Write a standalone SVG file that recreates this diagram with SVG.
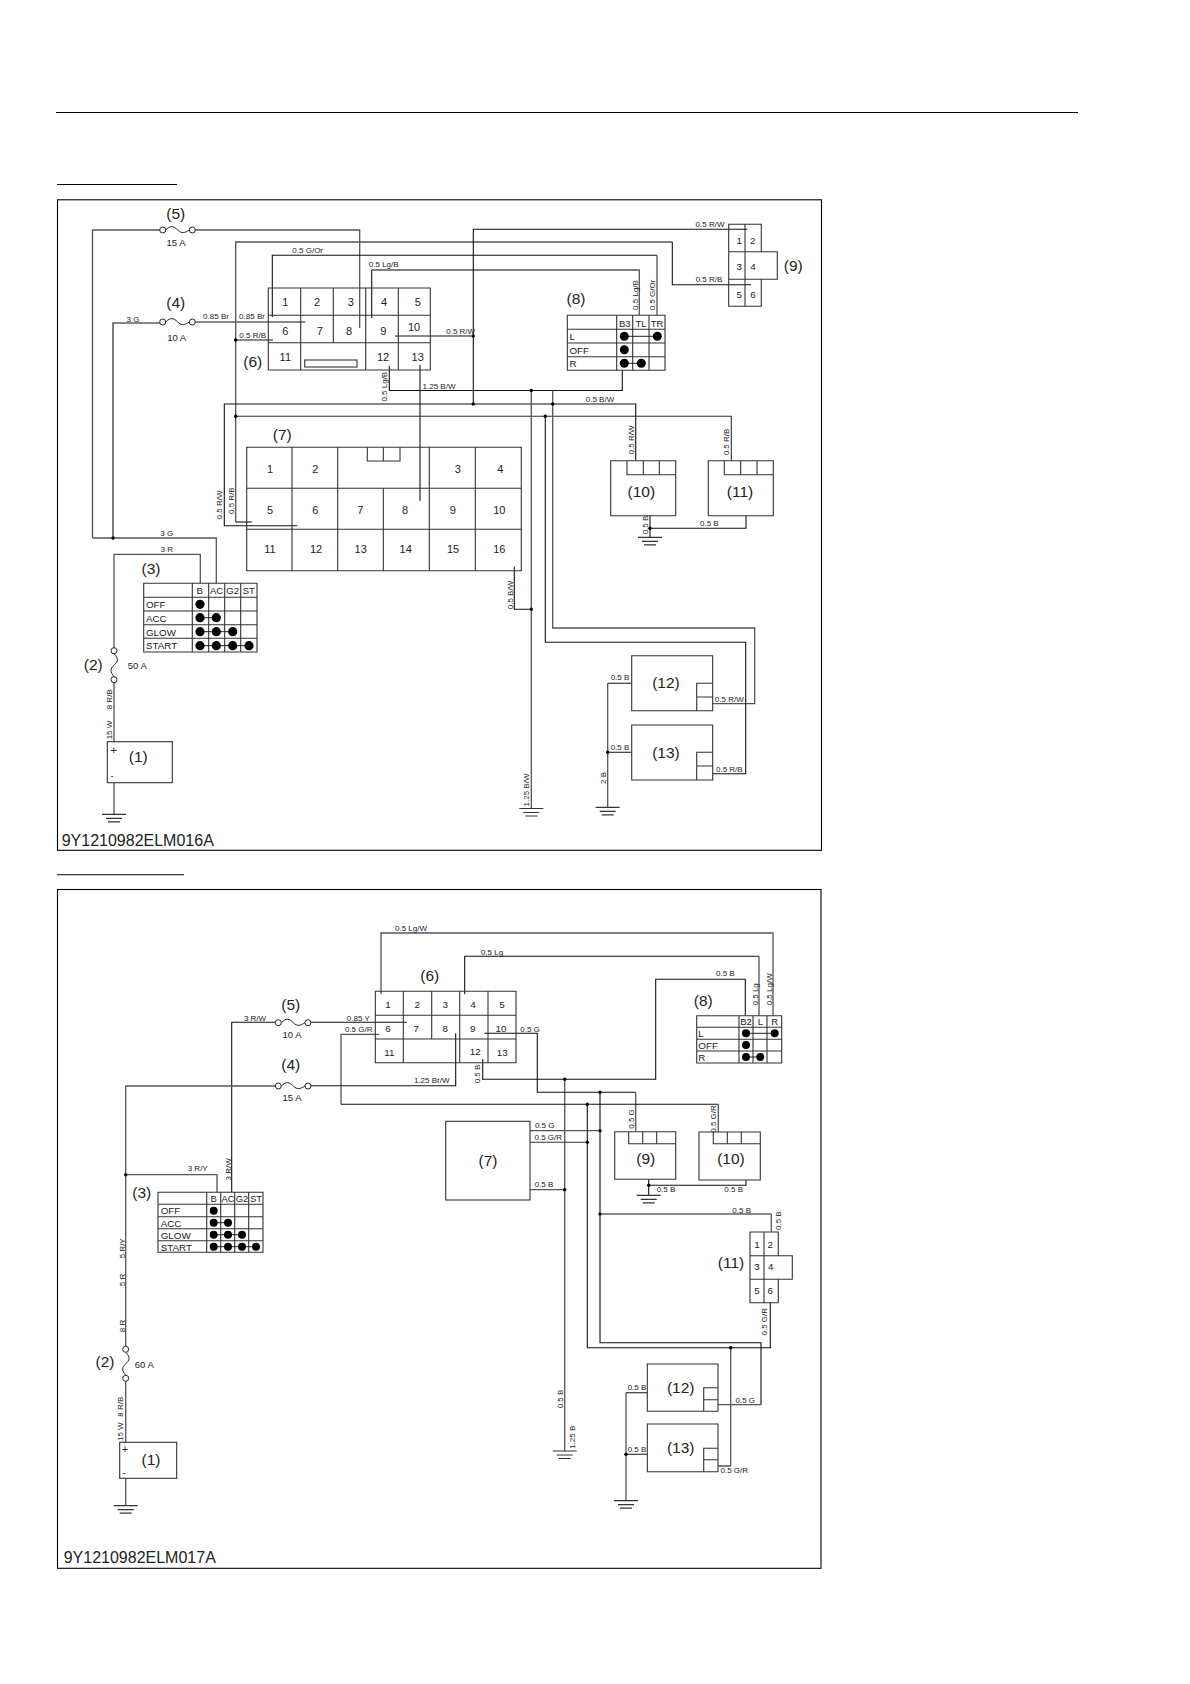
<svg xmlns="http://www.w3.org/2000/svg" xmlns:xlink="http://www.w3.org/1999/xlink" width="1190" height="1684" viewBox="0 0 1190 1684">
<style>
text{font-family:"Liberation Sans",Arial,sans-serif;fill:#222}
.l{font-size:8px;text-anchor:middle}
.a{font-size:9.5px;text-anchor:middle}
.n{font-size:15.5px;text-anchor:middle;transform:translateY(-.8px)}
.d{font-size:11px;text-anchor:middle}
.e{font-size:9.8px;text-anchor:middle}
.s{font-size:9.8px}
.h{font-size:9.5px;text-anchor:middle}
.c{font-size:16px}
.b,.w,.g,.t,.f{fill:none}
.b{stroke:#000;stroke-width:1.1}
.w{stroke:#111;stroke-width:1.1}
.g{stroke:#555;stroke-width:1.3}
.t{stroke:#333;stroke-width:1.1}
.f{stroke:#222;stroke-width:1}
.j{fill:#000}
.p{fill:#000}
.o{fill:#fff;stroke:#222;stroke-width:1}
</style>
<defs>
<g id="gnd" class="f"><path d="M-12 0H12M-8 4H8M-6 7.5H6" style="fill:none;stroke:#333;stroke-width:1.2"/></g>
<g id="hf"><path class="f" d="M3 0C8-5 11-4 15 0C19 4 22 3 26.600 0"/><circle class="o" cx="0" cy="0" r="3"/><circle class="o" cx="29.600" cy="0" r="3"/></g>
<g id="vf"><path class="f" d="M0 3C5 8 4 11 0 14.500C-4 18 -4 21 0 26"/><circle class="o" cx="0" cy="0" r="3"/><circle class="o" cx="0" cy="29" r="3"/></g>
</defs>
<rect width="1190" height="1684" fill="#fff"/>
<g id="page-rules">
<path class="b" d="M56 112.500H1078M57 184.500H177M57 874.700H184"/>
<rect class="b" x="57.500" y="199.800" width="764" height="650.500"/>
<rect class="b" x="57.500" y="889.500" width="763.500" height="678.800"/>
<text class="c" x="61.700" y="845.700">9Y1210982ELM016A</text>
<text class="c" x="63.700" y="1563.300">9Y1210982ELM017A</text>
</g>

<g id="connectors-top">
<path class="w" d="M113 538V323H162.700"/>
<path class="g" d="M92.500 538V230H162.700M192.300 230H359.700V328M92.500 538H216.300V583.300"/>
<path class="w" d="M192.300 322H305.300"/>
<path class="g" d="M235.700 522V242H672.300"/>
<path class="w" d="M672.300 242V284.700H751"/>
<path class="w" d="M235.700 522H251.700"/>
<path class="w" d="M235.700 340H273"/>
<path class="w" d="M272.300 317V255.300H657"/>
<path class="g" d="M657 255.300V315"/>
<path class="w" d="M371.700 318V270"/>
<path class="g" d="M371.700 270H639.300V315"/>
<path class="w" d="M747.300 229.300H473.300V404"/>
<path class="w" d="M395 336H473.300"/>
<path class="w" d="M389.300 366V390.500H622.300V370.300"/>
<path class="w" d="M420 365V500.700"/>
<path class="w" d="M297.300 525.700H224.300V404H635.700V460.700"/>
<path class="t" d="M235.700 416.200H731.300V460.700"/>
<path class="g" d="M531.300 390.500V808.500"/>
<path class="w" d="M514.300 566.700V609.300H531.300"/>
<path class="g" d="M552.700 390.500V628H754.700V703.700H712.700"/>
<path class="w" d="M545.300 416.200V642.300H745.700V773.700H712.700"/>
<path class="w" d="M650 515.700V537.300M650 528.300H746V515.700"/>
<path class="g" d="M607.700 807.300V683.300"/>
<path class="w" d="M631.700 683.300H607.700M607.700 752.300H631.700"/>
<path class="g" d="M200.300 583.300V554.300H114V648"/>
<path class="g" d="M114 682.300V741.700M114 782.700V814.300"/>
<circle class="j" cx="113" cy="538" r="1.700"/><circle class="j" cx="235.700" cy="340" r="1.700"/><circle class="j" cx="235.700" cy="416.200" r="1.700"/><circle class="j" cx="473.300" cy="336" r="1.700"/><circle class="j" cx="473.300" cy="404" r="1.700"/><circle class="j" cx="531.300" cy="390.500" r="1.700"/><circle class="j" cx="552.700" cy="404" r="1.700"/><circle class="j" cx="545.300" cy="416.200" r="1.700"/><circle class="j" cx="531.300" cy="609.300" r="1.700"/><circle class="j" cx="650" cy="528.300" r="1.700"/><circle class="j" cx="607.700" cy="752.300" r="1.700"/>
<use href="#gnd" x="114" y="814.300"/><use href="#gnd" x="531.300" y="808.500"/><use href="#gnd" x="650" y="537.300"/><use href="#gnd" x="607.700" y="807.300"/>
<text class="l" x="307.700" y="253.300">0.5 G/Or</text>
<text class="l" x="383.700" y="267">0.5 Lg/B</text>
<text class="l" x="133" y="321.700">3 G</text>
<text class="l" x="216" y="319">0.85 Br</text>
<text class="l" x="252" y="319">0.85 Br</text>
<text class="l" x="252.700" y="338">0.5 R/B</text>
<text class="l" x="460.700" y="334">0.5 R/W</text>
<text class="l" x="439" y="388.700">1.25 B/W</text>
<text class="l" x="600" y="402.300">0.5 B/W</text>
<text class="l" x="710" y="227.300">0.5 R/W</text>
<text class="l" x="709" y="281.700">0.5 R/B</text>
<text class="l" x="166.700" y="535.700">3 G</text>
<text class="l" x="166.700" y="552">3 R</text>
<text class="l" x="709.300" y="526">0.5 B</text>
<text class="l" x="620" y="680">0.5 B</text>
<text class="l" x="620" y="749.700">0.5 B</text>
<text class="l" x="729.300" y="701.700">0.5 R/W</text>
<text class="l" x="729.300" y="771.700">0.5 R/B</text>
<text class="l" transform="translate(387 386.700) rotate(-90)">0.5 Lg/B</text>
<text class="l" transform="translate(638 295) rotate(-90)">0.5 Lg/B</text>
<text class="l" transform="translate(655.300 295) rotate(-90)">0.5 G/Or</text>
<text class="l" transform="translate(634 440) rotate(-90)">0.5 R/W</text>
<text class="l" transform="translate(729 442) rotate(-90)">0.5 R/B</text>
<text class="l" transform="translate(647.700 525) rotate(-90)">0.5 B</text>
<text class="l" transform="translate(222.300 505) rotate(-90)">0.5 R/W</text>
<text class="l" transform="translate(233.700 500.700) rotate(-90)">0.5 R/B</text>
<text class="l" transform="translate(512.700 595) rotate(-90)">0.5 B/W</text>
<text class="l" transform="translate(529 790) rotate(-90)">1.25 B/W</text>
<text class="l" transform="translate(606.300 778) rotate(-90)">2 B</text>
<text class="l" transform="translate(112 699.300) rotate(-90)">8 R/B</text>
<text class="l" transform="translate(112 730) rotate(-90)">15 W</text>
</g>

<g id="t-fuse5"><use href="#hf" x="162.700" y="230"/><text class="n" x="175.700" y="219.500">(5)</text><text class="a" x="176" y="246">15 A</text></g>
<g id="t-fuse4"><use href="#hf" x="162.700" y="322"/><text class="n" x="175.700" y="309">(4)</text><text class="a" x="176.700" y="340.700">10 A</text></g>
<g id="t-fuse2"><use href="#vf" x="114" y="650.700"/><text class="n" x="93.300" y="671">(2)</text><text class="a" x="137.300" y="668.700">50 A</text></g>
<g id="t-battery"><rect class="t" x="107.300" y="741.700" width="65" height="41"/><text class="d" x="113.700" y="753.500">+</text><text class="a" x="112" y="779">-</text><text class="n" x="138.300" y="763.300">(1)</text></g>

<g id="t-switch3">
<path class="t" d="M143.700 583.300H257V652H143.700ZM143.700 597.300H257M143.700 611H257M143.700 624.700H257M143.700 638.300H257M192.300 583.300V652M208.700 583.300V652M224.700 583.300V652M240.700 583.300V652"/>
<text class="n" x="151" y="575">(3)</text>
<text class="h" x="199.700" y="594.300">B</text><text class="h" x="216.500" y="594.300">AC</text><text class="h" x="232.700" y="594.300">G2</text><text class="h" x="248.700" y="594.300">ST</text>
<text class="s" x="146" y="608.300">OFF</text><text class="s" x="146" y="622">ACC</text><text class="s" x="146" y="635.700">GLOW</text><text class="s" x="146" y="649.300">START</text>
<path class="f" d="M200 617.700H216.300M200 631.700H232.700M200 645.700H249"/>
<g class="p"><circle cx="200" cy="604.300" r="4.600"/><circle cx="200" cy="617.700" r="4.600"/><circle cx="216.300" cy="617.700" r="4.600"/><circle cx="200" cy="631.700" r="4.600"/><circle cx="216.300" cy="631.700" r="4.600"/><circle cx="232.700" cy="631.700" r="4.600"/><circle cx="200" cy="645.700" r="4.600"/><circle cx="216.300" cy="645.700" r="4.600"/><circle cx="232.700" cy="645.700" r="4.600"/><circle cx="249" cy="645.700" r="4.600"/></g>
</g>

<g id="t-node6">
<path class="t" d="M268.300 288H430.300V370H268.300ZM268.300 315.300H430.300M268.300 342.700H430.300M300.700 288V370M333.300 288V342.700M365.700 288V370M398.300 288V370"/>
<rect class="t" x="304.700" y="360" width="52.300" height="7"/>
<text class="n" x="252.700" y="368">(6)</text>
<text class="d" x="285.300" y="306.300">1</text><text class="d" x="317" y="306.300">2</text><text class="d" x="350.700" y="306.300">3</text><text class="d" x="384" y="306.300">4</text><text class="d" x="417.700" y="306.300">5</text>
<text class="d" x="285.300" y="334.500">6</text><text class="d" x="319.700" y="334.500">7</text><text class="d" x="349" y="334.500">8</text><text class="d" x="383.300" y="334.500">9</text><text class="d" x="414" y="330.700">10</text>
<text class="d" x="285.300" y="360.700">11</text><text class="d" x="383" y="360.700">12</text><text class="d" x="417.700" y="360.700">13</text>
</g>

<g id="t-node7">
<path class="t" d="M246.700 447.300H521.300V570.700H246.700ZM246.700 488.300H521.300M246.700 529.300H521.300M292 447.300V570.700M337.700 447.300V570.700M383.300 488.300V570.700M429.300 447.300V570.700M475.300 447.300V570.700M367.300 447.300V461H400V447.300M383.300 447.300V461"/>
<text class="n" x="282.300" y="440.700">(7)</text>
<text class="d" x="270" y="473">1</text><text class="d" x="315.300" y="473">2</text><text class="d" x="457.700" y="473">3</text><text class="d" x="500.300" y="473">4</text>
<text class="d" x="270" y="513.700">5</text><text class="d" x="315.300" y="513.700">6</text><text class="d" x="360.300" y="513.700">7</text><text class="d" x="405" y="513.700">8</text><text class="d" x="452.700" y="513.700">9</text><text class="d" x="499.300" y="513.700">10</text>
<text class="d" x="270" y="553">11</text><text class="d" x="316" y="553">12</text><text class="d" x="360.700" y="553">13</text><text class="d" x="405.700" y="553">14</text><text class="d" x="453" y="553">15</text><text class="d" x="499.300" y="553">16</text>
</g>

<g id="t-node8">
<path class="t" d="M567.300 315.300H665V370.300H567.300ZM567.300 329.300H665M567.300 343H665M567.300 356.700H665M616.700 315.300V370.300M632.700 315.300V370.300M649 315.300V370.300"/>
<text class="n" x="576" y="305">(8)</text>
<text class="h" x="624.700" y="326.700">B3</text><text class="h" x="641" y="326.700">TL</text><text class="h" x="657" y="326.700">TR</text>
<text class="s" x="569.500" y="340">L</text><text class="s" x="569.500" y="354">OFF</text><text class="s" x="569.500" y="367.300">R</text>
<path class="f" d="M624.300 336.300H657.300M624.300 363.300H641.300"/>
<g class="p"><circle cx="624.300" cy="336.300" r="4.500"/><circle cx="657.300" cy="336.300" r="4.500"/><circle cx="624.300" cy="349.700" r="4.500"/><circle cx="624.300" cy="363.300" r="4.500"/><circle cx="641.300" cy="363.300" r="4.500"/></g>
</g>

<g id="t-node9">
<path class="t" d="M728.700 224.300H761.300V251.700H777.300V279.300H761.300V306.300H728.700ZM728.700 251.700H761.300M728.700 279.300H761.300M745 224.300V306.300"/>
<text class="n" x="793.300" y="272.300">(9)</text>
<text class="e" x="739.300" y="243.500">1</text><text class="e" x="752.700" y="243.500">2</text><text class="e" x="739.300" y="269.500">3</text><text class="e" x="753" y="269.500">4</text><text class="e" x="739.300" y="297.800">5</text><text class="e" x="753" y="297.800">6</text>
</g>

<g id="t-node10"><path class="t" d="M610.700 460.700H675.700V515.700H610.700ZM627 460.700V474.700H675.700M643.300 460.700V474.700M659.300 460.700V474.700"/><text class="n" x="641.300" y="498">(10)</text></g>
<g id="t-node11"><path class="t" d="M708.300 460.700H773.300V515.700H708.300ZM724.300 460.700V474.700H773.300M740.700 460.700V474.700M757 460.700V474.700"/><text class="n" x="740" y="498">(11)</text></g>
<g id="t-node12"><path class="t" d="M631.700 655.700H712.700V710.700H631.700ZM712.700 683.300H696.700V710.700M696.700 697H712.700"/><text class="n" x="666" y="689.300">(12)</text></g>
<g id="t-node13"><path class="t" d="M631.700 725H712.700V780H631.700ZM712.700 752.300H696.700V780M696.700 766H712.700"/><text class="n" x="666" y="759">(13)</text></g>

<g id="connectors-bottom">
<path class="g" d="M381 994.300V933H773V1015.700"/>
<path class="w" d="M464.700 994.300V956.300H759"/>
<path class="g" d="M759 956.300V1015.700"/>
<path class="w" d="M482.700 1059.300V1079.300H655.700V979.300H745.300V1015.700"/>
<path class="g" d="M564.700 1079.300V1451"/>
<path class="w" d="M484.300 1033.300H537.300V1092.300H635.700"/>
<path class="g" d="M635.700 1092.300V1131.300"/>
<path class="g" d="M379 1034.300H341V1104.300"/>
<path class="w" d="M341 1104.300H718.300"/>
<path class="g" d="M718.300 1104.300V1132"/>
<path class="w" d="M307 1022.300H406.700M278.300 1022.300H231.700V1192.300"/>
<path class="g" d="M125.700 1349V1086H278.300"/>
<path class="w" d="M307 1085.700H455.700V1033.300"/>
<path class="g" d="M125.700 1174.700H217V1192.300"/>
<path class="g" d="M125.700 1378.300V1442.300M125.700 1478.300V1505.700"/>
<path class="g" d="M530 1130.700H600"/>
<path class="t" d="M530 1142.300H587.300"/>
<path class="g" d="M530 1189.700H564.700"/>
<path class="w" d="M600 1092.300V1342.700H761V1404.700"/>
<path class="g" d="M761 1404.700H718"/>
<path class="w" d="M587.300 1104.300V1347.700H770.300V1302.700"/>
<path class="g" d="M730.700 1347.700V1466"/>
<path class="w" d="M730.700 1466H718"/>
<path class="w" d="M600 1214H771.300"/>
<path class="g" d="M771.300 1214V1231.700"/>
<path class="w" d="M648.700 1179.300V1195.300M648.700 1185.300H746V1180"/>
<path class="g" d="M626 1392.700V1500.700"/>
<path class="w" d="M647.300 1392.700H626M626 1454.300H647.300"/>
<circle class="j" cx="125.700" cy="1174.700" r="1.700"/><circle class="j" cx="564.700" cy="1079.300" r="1.700"/><circle class="j" cx="600" cy="1092.300" r="1.700"/><circle class="j" cx="587.300" cy="1104.300" r="1.700"/><circle class="j" cx="600" cy="1130.700" r="1.700"/><circle class="j" cx="587.300" cy="1142.300" r="1.700"/><circle class="j" cx="564.700" cy="1189.700" r="1.700"/><circle class="j" cx="648.700" cy="1185.300" r="1.700"/><circle class="j" cx="600" cy="1214" r="1.700"/><circle class="j" cx="730.700" cy="1347.700" r="1.700"/><circle class="j" cx="626" cy="1454.300" r="1.700"/>
<use href="#gnd" x="125.700" y="1505.700"/><use href="#gnd" x="564.700" y="1451"/><use href="#gnd" x="648.700" y="1195.300"/><use href="#gnd" x="626" y="1500.700"/>
<text class="l" x="411" y="931.300">0.5 Lg/W</text>
<text class="l" x="492" y="954.700">0.5 Lg</text>
<text class="l" x="725.300" y="976">0.5 B</text>
<text class="l" x="530" y="1032.300">0.5 G</text>
<text class="l" x="358.700" y="1032">0.5 G/R</text>
<text class="l" x="358.300" y="1020.700">0.85 Y</text>
<text class="l" x="255" y="1021.300">3 R/W</text>
<text class="l" x="431.700" y="1083.300">1.25 Br/W</text>
<text class="l" x="197.700" y="1171">3 R/Y</text>
<text class="l" x="544.700" y="1128">0.5 G</text>
<text class="l" x="548.300" y="1139.700">0.5 G/R</text>
<text class="l" x="544" y="1186.700">0.5 B</text>
<text class="l" x="666" y="1192.300">0.5 B</text>
<text class="l" x="733.700" y="1192.300">0.5 B</text>
<text class="l" x="741.700" y="1212.700">0.5 B</text>
<text class="l" x="637" y="1390.300">0.5 B</text>
<text class="l" x="637" y="1451.700">0.5 B</text>
<text class="l" x="745.300" y="1402.700">0.5 G</text>
<text class="l" x="734.300" y="1473.300">0.5 G/R</text>
<text class="l" transform="translate(480.300 1074) rotate(-90)">0.5 B</text>
<text class="l" transform="translate(633.700 1119) rotate(-90)">0.5 G</text>
<text class="l" transform="translate(716.300 1119) rotate(-90)">0.5 G/R</text>
<text class="l" transform="translate(758 994.300) rotate(-90)">0.5 Lg</text>
<text class="l" transform="translate(772.300 989.300) rotate(-90)">0.5 Lg/W</text>
<text class="l" transform="translate(781 1220.700) rotate(-90)">0.5 B</text>
<text class="l" transform="translate(767.300 1321.700) rotate(-90)">0.5 G/R</text>
<text class="l" transform="translate(562.700 1399) rotate(-90)">0.5 B</text>
<text class="l" transform="translate(574.700 1437.300) rotate(-90)">1.25 B</text>
<text class="l" transform="translate(230.700 1169.300) rotate(-90)">3 R/W</text>
<text class="l" transform="translate(124.700 1248.300) rotate(-90)">5 R/Y</text>
<text class="l" transform="translate(124.700 1280) rotate(-90)">5 R</text>
<text class="l" transform="translate(125.300 1326) rotate(-90)">8 R</text>
<text class="l" transform="translate(123 1406.700) rotate(-90)">8 R/B</text>
<text class="l" transform="translate(123 1431.700) rotate(-90)">15 W</text>
</g>

<g id="b-fuse5"><use href="#hf" x="278.300" y="1022.700"/><text class="n" x="290.700" y="1011">(5)</text><text class="a" x="292" y="1038">10 A</text></g>
<g id="b-fuse4"><use href="#hf" x="278.300" y="1086"/><text class="n" x="290.700" y="1071.300">(4)</text><text class="a" x="292" y="1101.300">15 A</text></g>
<g id="b-fuse2"><use href="#vf" x="125.700" y="1349.300"/><text class="n" x="105" y="1368">(2)</text><text class="a" x="144.300" y="1368">60 A</text></g>
<g id="b-battery"><rect class="t" x="119.700" y="1442.300" width="57" height="36"/><text class="d" x="125" y="1452.800">+</text><text class="a" x="124" y="1476">-</text><text class="n" x="151" y="1465.700">(1)</text></g>

<g id="b-switch3">
<path class="t" d="M158 1192.300H263V1252.300H158ZM158 1204.300H263M158 1216.700H263M158 1228.700H263M158 1240.700H263M206.700 1192.300V1252.300M220.700 1192.300V1252.300M234.700 1192.300V1252.300M248.700 1192.300V1252.300"/>
<text class="n" x="141.700" y="1199">(3)</text>
<text class="h" x="213.700" y="1202">B</text><text class="h" x="228" y="1202">AC</text><text class="h" x="242" y="1202">G2</text><text class="h" x="256" y="1202">ST</text>
<text class="s" x="160.700" y="1214.300">OFF</text><text class="s" x="160.700" y="1226.700">ACC</text><text class="s" x="160.700" y="1238.700">GLOW</text><text class="s" x="160.700" y="1251">START</text>
<path class="f" d="M213.700 1222.700H228M213.700 1234.700H242M213.700 1246.700H256"/>
<g class="p"><circle cx="213.700" cy="1210.700" r="4"/><circle cx="213.700" cy="1222.700" r="4"/><circle cx="228" cy="1222.700" r="4"/><circle cx="213.700" cy="1234.700" r="4"/><circle cx="228" cy="1234.700" r="4"/><circle cx="242" cy="1234.700" r="4"/><circle cx="213.700" cy="1246.700" r="4"/><circle cx="228" cy="1246.700" r="4"/><circle cx="242" cy="1246.700" r="4"/><circle cx="256" cy="1246.700" r="4"/></g>
</g>

<g id="b-node6">
<path class="t" d="M375.300 991.300H516V1062.700H375.300ZM375.300 1015.300H516M375.300 1039H516M403.300 991.300V1062.700M431.700 991.300V1039M459.700 991.300V1062.700M488 991.300V1062.700"/>
<text class="n" x="429.700" y="981.700">(6)</text>
<text class="e" x="388" y="1008">1</text><text class="e" x="417.300" y="1008">2</text><text class="e" x="445.300" y="1008">3</text><text class="e" x="473" y="1008">4</text><text class="e" x="502" y="1008">5</text>
<text class="e" x="388" y="1032.300">6</text><text class="e" x="416.300" y="1032.300">7</text><text class="e" x="445.300" y="1032.300">8</text><text class="e" x="472.700" y="1032.300">9</text><text class="e" x="501" y="1032.300">10</text>
<text class="e" x="389.300" y="1055.700">11</text><text class="e" x="475.300" y="1054.500">12</text><text class="e" x="502.300" y="1055.700">13</text>
</g>

<g id="b-node7"><rect class="t" x="445.700" y="1121.300" width="84.300" height="78.700"/><text class="n" x="488" y="1166.700">(7)</text></g>

<g id="b-node8">
<path class="t" d="M696.700 1015.700H781.700V1063H696.700ZM696.700 1027.300H781.700M696.700 1039.300H781.700M696.700 1051H781.700M739 1015.700V1063M753 1015.700V1063M767 1015.700V1063"/>
<text class="n" x="703.300" y="1006.700">(8)</text>
<text class="h" x="746" y="1025">B2</text><text class="h" x="760.300" y="1025">L</text><text class="h" x="774.700" y="1025">R</text>
<text class="s" x="698.300" y="1037">L</text><text class="s" x="698.300" y="1049">OFF</text><text class="s" x="698.300" y="1061">R</text>
<path class="f" d="M746 1033.300H774.700M746 1057H760.300"/>
<g class="p"><circle cx="746" cy="1033.300" r="4"/><circle cx="774.700" cy="1033.300" r="4"/><circle cx="746" cy="1045" r="4"/><circle cx="746" cy="1057" r="4"/><circle cx="760.300" cy="1057" r="4"/></g>
</g>

<g id="b-node9"><path class="t" d="M614.700 1131.700H675.700V1179.300H614.700ZM628.700 1131.700V1143.700H675.700M642.700 1131.700V1143.700M656.700 1131.700V1143.700"/><text class="n" x="645.700" y="1165">(9)</text></g>
<g id="b-node10"><path class="t" d="M699 1132H760.300V1180H699ZM713.300 1132V1143.700H760.300M727.300 1132V1143.700M741.300 1132V1143.700"/><text class="n" x="731" y="1165">(10)</text></g>

<g id="b-node11">
<path class="t" d="M750 1232H778.300V1255.700H792.300V1279.300H778.300V1302.700H750ZM750 1255.700H778.300M750 1279.300H778.300M764 1232V1302.700"/>
<text class="n" x="731" y="1269">(11)</text>
<text class="e" x="757" y="1248.200">1</text><text class="e" x="770.300" y="1248.200">2</text><text class="e" x="757" y="1269.800">3</text><text class="e" x="770.700" y="1269.800">4</text><text class="e" x="757" y="1294.200">5</text><text class="e" x="770.300" y="1294.200">6</text>
</g>
<g id="b-node12"><path class="t" d="M647.300 1364H718V1411.300H647.300ZM718 1387.700H703.700V1411.300M703.700 1399.700H718"/><text class="n" x="680.700" y="1394">(12)</text></g>
<g id="b-node13"><path class="t" d="M647.300 1424H718V1471.700H647.300ZM718 1448.300H703.700V1471.700M703.700 1459.700H718"/><text class="n" x="680.700" y="1454">(13)</text></g>
</svg>
